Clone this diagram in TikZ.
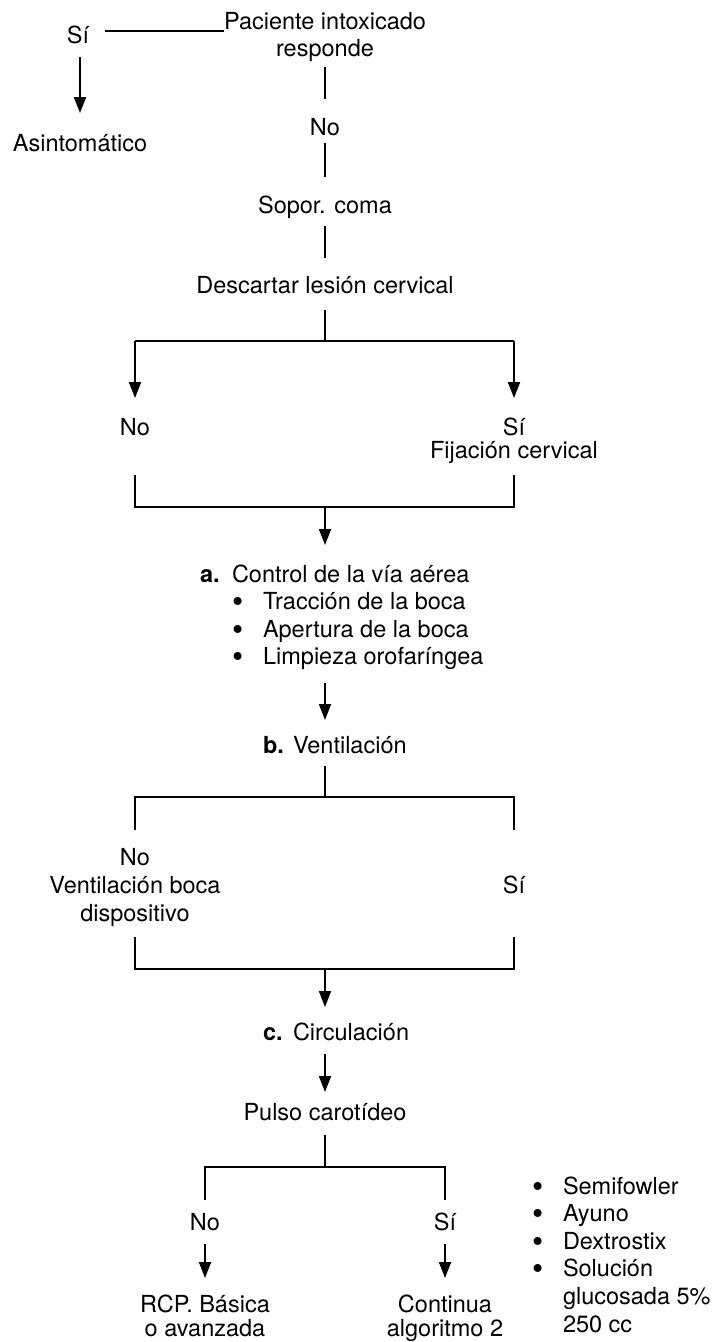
\documentclass[tikz,border=0pt]{standalone}
\usepackage{fontspec}
\setmainfont{TeX Gyre Heros}
\usetikzlibrary{arrows.meta,calc}
% list bullet, a little larger than the text bullet; smashed so rows keep their spacing
\newcommand\itemdot{\smash{\raisebox{-3pt}{\fontsize{32}{32}\selectfont\textbullet}}}
\begin{document}
\begin{tikzpicture}[x=1pt,y=-1pt,
  txt/.style={inner sep=0pt, outer sep=0pt, anchor=base,
    font=\fontsize{23.5}{27.6}\selectfont},
  stack/.style={txt, align=center, font=\fontsize{23.5}{#1}\selectfont},
  wire/.style={line width=1.8pt},
  flow/.style={wire, -{Triangle[length=16pt,width=12pt]}},
]
\useasboundingbox (0,0) rectangle (715,1342);

% ---- texts (multi-line nodes sit on their last baseline) ----
\node[stack=27] (top) at (325,56) {Paciente intoxicado\\responde};
\node[txt] (si1) at (78,43) {Sí};
\node[txt] (asin) at (80,151) {Asintomático};
\node[txt] (no1) at (325,135) {No};
\node[txt] (sopor) at (325,213) {Sopor. coma};
\node[txt] (desc) at (325,293) {Descartar lesión cervical};
\node[txt] (no2) at (135,435) {No};
\node[stack=23] (si2) at (514,458) {Sí\\Fijación cervical};
\node[txt, anchor=base west] (airway) at (200,582) {%
  \begin{tabular}[t]{@{}l@{}}
  \makebox[32pt][l]{\textbf{a.}}Control de la vía aérea\\
  \hspace*{32pt}\makebox[31pt][l]{\itemdot}Tracción de la boca\\
  \hspace*{32pt}\makebox[31pt][l]{\itemdot}Apertura de la boca\\
  \hspace*{32pt}\makebox[31pt][l]{\itemdot}Limpieza orofaríngea
  \end{tabular}};
\node[txt, anchor=base west] (vent) at (263,753) {\makebox[30pt][l]{\textbf{b.}}Ventilación};
\node[stack=28] (no3) at (135,921) {No\\Ventilación boca\\dispositivo};
\node[txt] (si3) at (514,893) {Sí};
\node[txt, anchor=base west] (circ) at (263,1040) {\makebox[30pt][l]{\textbf{c.}}Circulación};
\node[txt] (pulso) at (325,1120) {Pulso carotídeo};
\node[txt] (no4) at (205,1230) {No};
\node[txt] (si4) at (445,1230) {Sí};
\node[stack=24] (rcp) at (205,1336) {RCP. Básica\\o avanzada};
\node[stack=24] (cont) at (445,1336) {Continua\\algoritmo 2};
\node[txt, anchor=base west] (care) at (532,1194) {%
  \begin{tabular}[t]{@{}l@{}}
  \makebox[31pt][l]{\itemdot}Semifowler\\
  \makebox[31pt][l]{\itemdot}Ayuno\\
  \makebox[31pt][l]{\itemdot}Dextrostix\\
  \makebox[31pt][l]{\itemdot}Solución\\
  \hspace*{31pt}glucosada 5\%\\
  \hspace*{31pt}250 cc
  \end{tabular}};

% ---- junctions ----
\coordinate (j1) at (325,341);
\coordinate (j1l) at (135,341);
\coordinate (j1r) at (514,341);
\coordinate (j2) at (325,507);
\coordinate (j3) at (325,797);
\coordinate (j3r) at (514,797);
\coordinate (j4) at (325,969);
\coordinate (j5) at (325,1167);
\coordinate (j5r) at (445,1167);

% ---- connectors ----
\draw[wire] ($(si1.base east)+(16,-12)$) -- ($(top.west |- si1.base)+(0,-12)$);
\draw[flow] ($(si1.base)+(2,14)$) -- ($(asin.base)+(0,-38)$);
\draw[wire] ($(top.base)+(0,11)$) -- ($(no1.base)+(0,-36)$);
\draw[wire] ($(no1.base)+(0,8)$) -- ($(sopor.base)+(0,-36)$);
\draw[wire] ($(sopor.base)+(0,13)$) -- ($(desc.base)+(0,-35)$);
\draw[wire] ($(desc.base)+(0,17)$) -- (j1);
\draw[wire] (j1l) -- (j1r);
\draw[flow] (j1l) -- ($(no2.base)+(0,-37)$);
\draw[flow] (j1r) -- ($(si2.base)+(0,-60)$);
\draw[wire] ($(no2.base)+(0,40)$) |- ($(si2.base)+(0,49)$) -- ($(si2.base)+(0,17)$);
\draw[flow] (j2) -- ($(airway.base -| j2)+(0,-37)$);
\draw[flow] ($(airway.south -| j2)+(0,10)$) -- ($(vent.base -| j2)+(0,-33)$);
\draw[wire] ($(vent.base -| j3)+(0,13)$) -- (j3);
\draw[wire] ($(no3.base)+(0,-91)$) |- (j3r) -- ($(si3.base)+(0,-63)$);
\draw[wire] ($(no3.base)+(0,16)$) |- ($(si3.base)+(0,76)$) -- ($(si3.base)+(0,44)$);
\draw[flow] (j4) -- ($(circ.base -| j4)+(0,-33)$);
\draw[flow] ($(circ.base -| j4)+(0,14)$) -- ($(pulso.base)+(0,-28)$);
\draw[wire] ($(pulso.base)+(0,15)$) -- (j5);
\draw[wire] ($(no4.base)+(0,-30)$) |- (j5r) -- ($(si4.base)+(0,-30)$);
\draw[flow] ($(no4.base)+(0,14)$) -- ($(rcp.base)+(0,-58)$);
\draw[flow] ($(si4.base)+(0,14)$) -- ($(cont.base)+(0,-58)$);
\end{tikzpicture}
\end{document}
